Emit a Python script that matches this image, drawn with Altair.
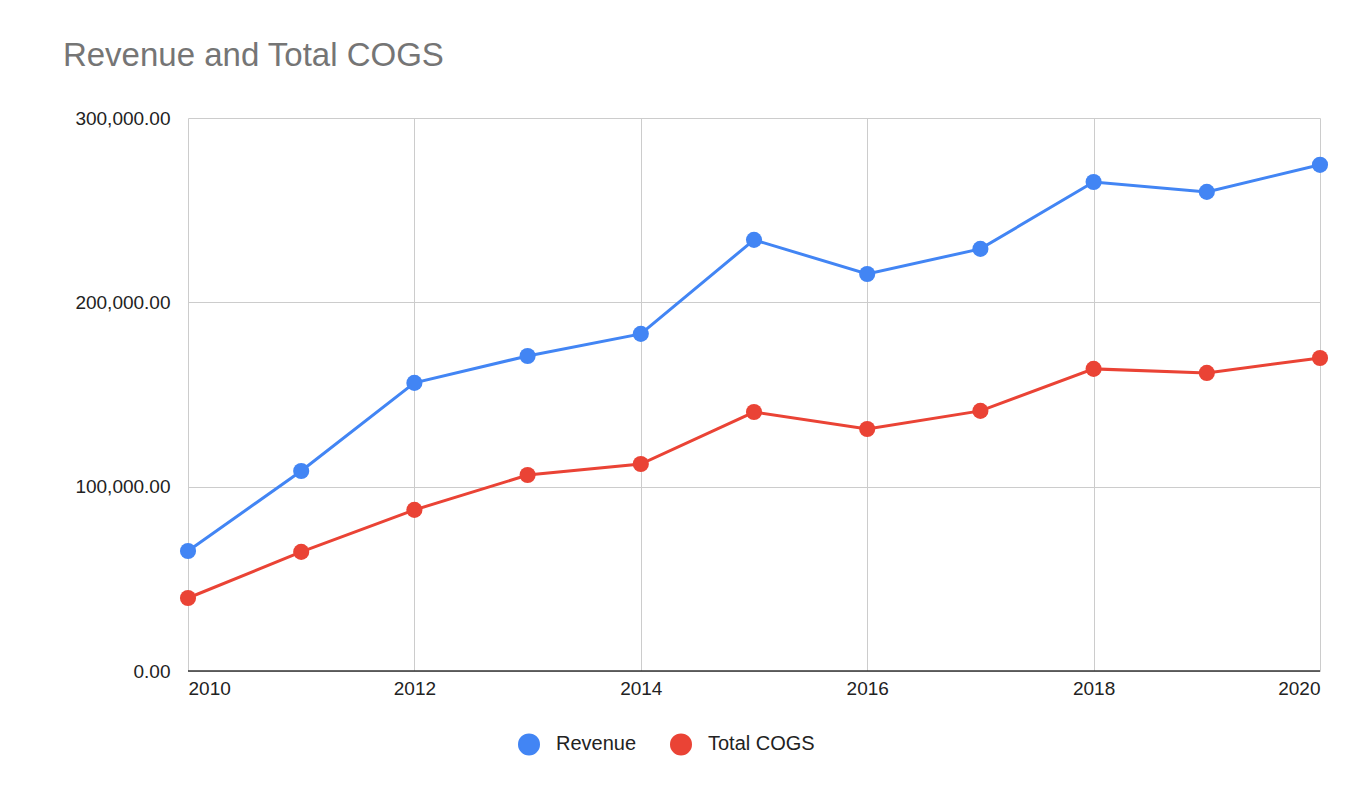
import altair as alt
import pandas as pd

years = list(range(2010, 2021))
revenue = [65100, 108500, 156300, 170900, 182900, 233900, 215400, 229000, 265300, 259900, 274600]
cogs = [39600, 64600, 87400, 106300, 112300, 140500, 131300, 141100, 163900, 161700, 169800]

rows = []
for y, r, c in zip(years, revenue, cogs):
    rows.append({"year": y, "series": "Revenue", "value": r})
    rows.append({"year": y, "series": "Total COGS", "value": c})
df = pd.DataFrame(rows)

color = alt.Color("series:N", scale=alt.Scale(domain=["Revenue", "Total COGS"], range=["#4285F4", "#EA4335"]),
                  legend=alt.Legend(title=None, orient="none", legendX=330, legendY=615, direction="horizontal",
                                    symbolType="circle", symbolSize=420, labelFontSize=20, labelFont="Liberation Sans",
                                    columnPadding=30, labelOffset=16, symbolOpacity=1, labelColor="#222"))

x = alt.X("year:Q", scale=alt.Scale(domain=[2010, 2020], nice=False, zero=False),
          axis=alt.Axis(values=[2010, 2012, 2014, 2016, 2018, 2020], format="d", title=None, labelFontSize=19,
                        labelColor="#222", tickSize=0, domain=False, gridColor="#cccccc", labelPadding=8))
y = alt.Y("value:Q", scale=alt.Scale(domain=[0, 300000]),
          axis=alt.Axis(values=[0, 100000, 200000, 300000], format=",.2f", title=None, labelFontSize=19,
                        labelColor="#222", tickSize=0, domain=False, gridColor="#cccccc", labelPadding=18))

base = alt.Chart(df).encode(x=x, y=y, color=color)
lines = base.mark_line(strokeWidth=3)
pts = base.mark_circle(size=260, opacity=1)
baseline = alt.Chart(pd.DataFrame({"v": [0]})).mark_rule(color="#333", strokeWidth=1.5).encode(y="v:Q")

chart = alt.layer(lines, pts, baseline).properties(
    width=1132, height=553,
    title=alt.TitleParams("Revenue and Total COGS", anchor="start", dx=-12, fontSize=33, font="Liberation Sans",
                          fontWeight="normal", color="#757575", offset=36),
    autosize=alt.AutoSizeParams(type="none"),
    padding={"left": 180, "top": 110, "right": 40, "bottom": 120},
).configure_view(stroke=None).configure_axis(labelFont="Liberation Sans")

chart.save("out.html", embed_options={"renderer": "svg", "actions": False})
